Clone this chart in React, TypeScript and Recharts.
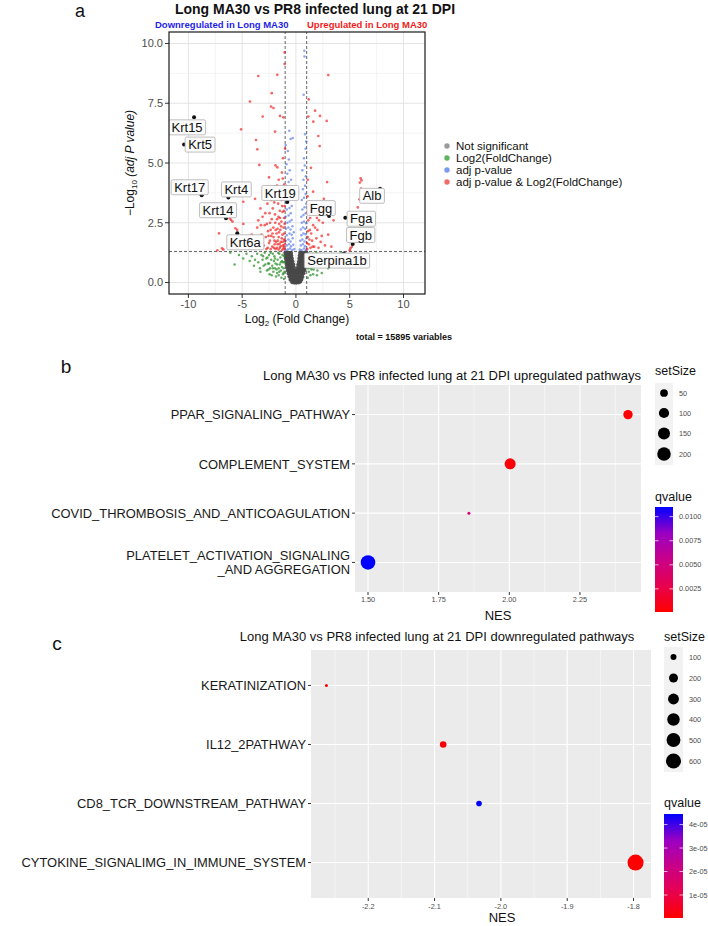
import React from 'react';
import { ScatterChart, Scatter, XAxis, YAxis, CartesianGrid, ReferenceLine } from 'recharts';

const FONT = '"Liberation Sans", Arial, Helvetica, sans-serif';

type XY = [number, number];

// ---------- Panel a: volcano (log2 fold change, -log10 adjusted p) ----------
const notSignificant: XY[] = [
  [-0.35, 0.02], [-0.15, 0.0], [0.05, 0.0], [0.25, 0.01], [0.4, 0.04],
  [-0.5, 0.12], [-0.3, 0.11], [-0.1, 0.12], [0.1, 0.1], [0.3, 0.12], [0.5, 0.13],
  [-0.6, 0.25], [-0.4, 0.24], [-0.2, 0.26], [0.0, 0.23], [0.2, 0.25], [0.4, 0.26], [0.6, 0.24],
  [-0.68, 0.38], [-0.48, 0.37], [-0.28, 0.39], [-0.08, 0.36], [0.12, 0.38], [0.32, 0.4], [0.52, 0.37], [0.7, 0.39],
  [-0.75, 0.5], [-0.55, 0.51], [-0.35, 0.49], [-0.15, 0.5], [0.05, 0.48], [0.25, 0.52], [0.45, 0.5], [0.65, 0.49], [0.78, 0.51],
  [-0.8, 0.62], [-0.6, 0.63], [-0.4, 0.61], [-0.2, 0.62], [0.15, 0.6], [0.35, 0.63], [0.55, 0.62], [0.75, 0.61], [0.85, 0.63],
  [-0.85, 0.75], [-0.65, 0.74], [-0.45, 0.76], [-0.25, 0.75], [0.22, 0.74], [0.4, 0.76], [0.6, 0.75], [0.8, 0.74], [0.9, 0.76],
  [-0.9, 0.88], [-0.7, 0.87], [-0.5, 0.89], [-0.32, 0.88], [0.28, 0.87], [0.45, 0.89], [0.65, 0.88], [0.85, 0.87], [0.95, 0.89],
  [-0.93, 1.0], [-0.75, 1.01], [-0.55, 0.99], [-0.38, 1.0], [0.32, 1.01], [0.5, 0.99], [0.7, 1.0], [0.88, 1.02], [0.98, 0.99],
  [-0.96, 1.12], [-0.78, 1.13], [-0.6, 1.11], [-0.43, 1.12], [0.36, 1.13], [0.55, 1.11], [0.75, 1.12], [0.92, 1.13], [0.99, 1.11],
  [-0.98, 1.24], [-0.8, 1.25], [-0.63, 1.23], [-0.46, 1.24], [0.4, 1.25], [0.58, 1.23], [0.78, 1.24], [0.95, 1.26], [0.99, 1.22],
];

const log2FcOnly: XY[] = [
  [-1.1, 0.15], [-1.2, 0.35], [-1.15, 0.6], [-1.3, 0.9], [-1.25, 1.15], [-1.4, 0.5], [-1.5, 0.75], [-1.45, 1.05],
  [-1.6, 0.3], [-1.7, 0.95], [-1.65, 1.25], [-1.8, 0.55], [-1.9, 0.8], [-2.0, 1.1], [-2.1, 0.45], [-2.2, 0.7],
  [-2.15, 1.2], [-2.3, 0.95], [-2.4, 0.6], [-2.5, 1.15], [-2.6, 0.8], [-2.7, 0.5], [-2.75, 1.0], [-2.9, 1.25],
  [-3.0, 0.7], [-3.1, 0.95], [-3.2, 1.15], [-3.35, 0.6], [-3.5, 0.85], [-3.6, 1.2], [-3.8, 0.95], [-3.9, 0.7],
  [-4.1, 1.1], [-4.3, 0.9], [-4.6, 1.2], [-4.9, 1.0], [-5.3, 1.15], [-1.35, 0.2], [-1.55, 1.2], [-1.85, 0.25],
  [-2.05, 0.9], [-2.45, 0.35], [-2.85, 0.75], [-3.3, 0.45], [-1.95, 0.6], [-2.55, 0.55], [-1.75, 0.4], [-1.2, 0.85],
  [-1.1, 1.1], [-6.1, 1.25], [-5.7, 0.75], [-1.05, 0.45], [-1.3, 0.65], [-1.6, 0.6], [-2.35, 1.25], [-2.25, 0.3],
  [-1.05, 0.85], [-1.15, 0.4], [-1.4, 0.85], [-1.55, 0.45], [-1.75, 0.75], [-1.95, 1.0], [-2.15, 0.6], [-2.5, 0.8],
  [-2.65, 1.05], [-3.05, 1.1],
  [1.1, 0.2], [1.2, 0.45], [1.15, 0.75], [1.3, 1.0], [1.25, 1.2], [1.4, 0.6], [1.5, 0.9], [1.6, 0.35],
  [1.7, 1.1], [1.8, 0.7], [1.9, 1.25], [2.0, 0.5], [2.1, 0.85], [2.2, 1.05], [2.35, 0.65], [2.5, 0.95],
  [2.6, 1.2], [2.75, 0.8], [2.9, 1.05], [3.1, 0.9], [3.3, 1.2], [3.5, 1.0], [3.8, 1.15], [4.2, 1.25],
  [1.35, 0.3], [1.55, 1.2], [1.95, 0.3], [2.4, 0.4], [1.1, 0.95], [3.0, 0.6], [1.05, 0.6], [1.45, 0.55],
  [1.05, 1.0], [1.2, 0.6], [1.35, 0.8], [1.65, 0.55], [1.8, 1.0], [2.05, 0.75], [2.25, 1.2], [2.7, 1.0],
];

const adjPOnly: XY[] = [
  [-0.95, 1.35], [-0.75, 1.38], [-0.55, 1.42], [-0.35, 1.36], [-0.15, 1.4],
  [-0.85, 1.55], [-0.65, 1.6], [-0.45, 1.52], [-0.25, 1.58],
  [-0.95, 1.75], [-0.7, 1.8], [-0.5, 1.72], [-0.3, 1.85],
  [-0.85, 1.98], [-0.6, 2.05], [-0.4, 2.0], [-0.2, 2.1],
  [-0.92, 2.25], [-0.7, 2.3], [-0.5, 2.22], [-0.32, 2.35],
  [-0.8, 2.5], [-0.58, 2.55], [-0.4, 2.62],
  [-0.95, 2.75], [-0.68, 2.8], [-0.48, 2.9],
  [-0.85, 3.05], [-0.6, 3.12], [-0.38, 3.2],
  [-0.93, 3.35], [-0.72, 3.45], [-0.5, 3.55],
  [-0.82, 3.75], [-0.6, 3.85],
  [-0.9, 4.05], [-0.68, 4.2], [-0.45, 4.3],
  [-0.8, 4.55], [-0.58, 4.7],
  [-0.88, 4.95], [-0.66, 5.15],
  [-0.75, 5.5], [-0.5, 6.0], [-0.3, 6.05], [-0.95, 5.75], [-0.62, 6.35],
  [0.35, 1.38], [0.55, 1.35], [0.75, 1.42], [0.95, 1.37],
  [0.45, 1.55], [0.65, 1.6], [0.85, 1.52],
  [0.4, 1.75], [0.6, 1.8], [0.8, 1.72], [0.97, 1.85],
  [0.5, 1.98], [0.7, 2.05], [0.9, 2.02],
  [0.45, 2.22], [0.65, 2.3], [0.85, 2.25],
  [0.55, 2.5], [0.75, 2.55], [0.95, 2.48],
  [0.5, 2.75], [0.7, 2.82], [0.9, 2.9],
  [0.6, 3.05], [0.8, 3.15], [0.95, 3.3],
  [0.55, 3.45], [0.75, 3.55], [0.9, 3.7],
  [0.65, 3.9], [0.85, 4.05],
  [0.7, 4.3], [0.92, 4.45],
  [0.6, 4.7], [0.82, 4.9],
  [0.75, 5.2], [0.9, 5.6], [0.85, 6.2], [0.95, 5.9],
  [0.72, 7.85], [0.8, 9.45], [0.78, 9.7],
];

const adjPAndLog2Fc: XY[] = [
  [-1.05, 1.4], [-1.2, 1.55], [-1.1, 1.8], [-1.3, 1.35], [-1.4, 1.7], [-1.25, 2.0], [-1.5, 1.45], [-1.6, 1.9],
  [-1.15, 2.3], [-1.45, 2.2], [-1.7, 1.6], [-1.8, 2.05], [-1.35, 2.55], [-1.1, 2.7], [-1.55, 2.45], [-1.9, 1.4],
  [-2.0, 1.75], [-2.1, 2.3], [-1.75, 2.65], [-1.25, 2.95], [-1.05, 3.2], [-1.5, 3.0], [-2.2, 1.5], [-2.3, 1.95],
  [-2.4, 2.5], [-1.95, 2.85], [-1.65, 3.3], [-1.2, 3.5], [-2.5, 1.65], [-2.6, 2.15], [-2.15, 3.1], [-1.85, 3.55],
  [-1.4, 3.8], [-2.75, 1.4], [-2.8, 1.9], [-2.9, 2.4], [-2.45, 2.9], [-2.3, 3.45], [-3.0, 1.55], [-3.1, 2.75],
  [-3.2, 2.0], [-2.65, 3.3], [-1.1, 4.1], [-1.6, 4.3], [-2.0, 4.0], [-3.4, 1.7], [-3.6, 2.3], [-3.3, 3.1],
  [-2.8, 3.75], [-1.3, 4.6], [-3.9, 1.45], [-4.1, 2.0], [-3.8, 3.5], [-2.5, 4.4], [-1.9, 4.9], [-1.2, 5.2],
  [-1.02, 1.6], [-1.08, 2.05], [-1.18, 1.42], [-1.32, 1.85], [-1.62, 1.38], [-1.85, 1.7], [-2.05, 1.45],
  [-1.38, 2.35], [-1.7, 2.25], [-2.25, 2.65], [-1.05, 2.45], [-1.28, 3.2], [-2.55, 1.95], [-3.5, 2.6],
  [-1.03, 1.75], [-1.12, 1.5], [-1.22, 1.7], [-1.42, 1.52], [-1.52, 1.62], [-1.58, 2.1], [-1.68, 1.75],
  [-1.78, 1.45], [-1.88, 2.2], [-1.98, 1.6], [-2.08, 1.9], [-2.18, 2.05], [-2.35, 1.4], [-2.42, 1.75],
  [-2.62, 1.45], [-2.7, 2.45], [-1.12, 3.0], [-1.48, 2.7], [-1.62, 2.75], [-1.92, 2.5], [-2.02, 3.35],
  [-1.35, 3.45], [-1.07, 3.85], [-1.55, 3.55], [-2.35, 2.2], [-2.85, 2.9], [-3.25, 2.4], [-1.22, 4.35],
  [-1.75, 4.05], [-3.05, 3.6],
  [-3.4, 4.92], [-3.59, 5.57], [-3.71, 5.96], [-1.73, 4.82], [-1.94, 6.31], [-5.1, 6.41], [-3.09, 6.94],
  [-1.48, 6.97], [-1.17, 6.91], [-2.31, 7.36], [-4.27, 7.57], [-2.25, 7.92], [-3.5, 8.64], [-1.73, 8.69],
  [-1.05, 9.63], [-1.05, 9.14], [-2.09, 7.3], [-1.0, 5.6],
  [-7.15, 2.06], [-6.87, 1.43], [-6.75, 1.38], [-6.03, 2.62], [-5.9, 2.55], [-6.15, 2.68], [-4.89, 3.38],
  [-4.89, 2.45], [-5.63, 2.27], [-5.47, 2.2], [-7.3, 1.35], [-4.6, 1.9],
  [1.05, 1.4], [1.2, 1.6], [1.1, 1.9], [1.35, 1.45], [1.5, 1.75], [1.3, 2.2], [1.7, 1.5], [1.6, 2.4],
  [1.9, 1.85], [1.15, 2.6], [2.1, 1.45], [2.0, 2.2], [1.45, 2.9], [2.3, 1.7], [2.5, 2.5], [1.8, 3.1],
  [2.7, 1.55], [1.25, 3.4], [2.2, 3.0], [3.0, 2.0], [3.3, 1.5], [2.6, 3.5], [1.6, 3.8], [1.1, 4.3],
  [3.5, 2.6], [1.4, 4.8], [2.9, 4.2], [2.21, 5.71], [1.16, 6.94], [2.86, 6.76], [2.24, 6.97], [1.78, 7.19],
  [1.62, 6.73], [2.08, 6.13], [1.19, 7.66], [3.01, 8.68],
  [1.03, 1.65], [1.12, 2.15], [1.25, 1.8], [1.42, 2.05], [1.55, 1.5], [1.78, 2.3], [1.05, 2.9], [1.32, 2.7],
  [2.4, 1.95], [2.15, 2.6], [1.08, 3.6], [1.95, 2.7],
  [6.02, 4.36], [6.1, 4.27], [5.94, 4.18], [6.06, 3.93], [5.9, 3.48], [5.75, 3.14], [5.07, 1.43], [5.2, 1.5], [5.0, 1.35],
];

const labelledGenes = [
  { gene: 'Krt15', x: -9.47, y: 6.91 },
  { gene: 'Krt5', x: -10.4, y: 5.77 },
  { gene: 'Krt17', x: -8.76, y: 3.65 },
  { gene: 'Krt4', x: -6.28, y: 3.56 },
  { gene: 'Krt14', x: -6.5, y: 2.69 },
  { gene: 'Krt6a', x: -5.45, y: 2.06 },
  { gene: 'Krt19', x: -0.8, y: 3.37 },
  { gene: 'Fgg', x: 3.08, y: 2.78 },
  { gene: 'Alb', x: 7.82, y: 3.92 },
  { gene: 'Fga', x: 4.59, y: 2.71 },
  { gene: 'Fgb', x: 5.28, y: 1.61 },
  { gene: 'Serpina1b', x: 4.47, y: 1.21 },
];

const totalVariables = 15895;
const fcCutoff = 1;
const pCutoff = 1.3;
const fcTicks = [-10, -5, 0, 5, 10];
const fcMinorTicks = [-7.5, -2.5, 2.5, 7.5];
const pTicks = [0, 2.5, 5, 7.5, 10];
const pMinorTicks = [1.25, 3.75, 6.25, 8.75];
const volcanoLegend = ['Not significant', 'Log2(FoldChange)', 'adj p-value', 'adj p-value & Log2(FoldChange)'];

// ---------- Panel b: upregulated pathways ----------
const upPathways = [
  'PLATELET_ACTIVATION_SIGNALING\n_AND AGGREGATION',
  'COVID_THROMBOSIS_AND_ANTICOAGULATION',
  'COMPLEMENT_SYSTEM',
  'PPAR_SIGNALING_PATHWAY',
];
const upNES = [1.5, 1.857, 2.003, 2.42];
const upSetSize = [240, 12, 121, 81];
const upQvalue = [0.011, 0.0045, 0.0004, 0.0001];
const upNesTicks = [1.5, 1.75, 2.0, 2.25];
const upNesMinor = [1.625, 1.875, 2.125, 2.375];
const upSizeBreaks = [50, 100, 150, 200];
const upQBreaks = [0.0025, 0.005, 0.0075, 0.01];

// ---------- Panel c: downregulated pathways ----------
const downPathways = [
  'CYTOKINE_SIGNALIMG_IN_IMMUNE_SYSTEM',
  'CD8_TCR_DOWNSTREAM_PATHWAY',
  'IL12_2PATHWAY',
  'KERATINIZATION',
];
const downNES = [-1.797, -2.033, -2.087, -2.263];
const downSetSize = [690, 92, 115, 67];
const downQvalue = [2e-7, 4.45e-5, 1.5e-6, 5e-7];
const downNesTicks = [-2.2, -2.1, -2.0, -1.9, -1.8];
const downNesMinor = [-2.25, -2.15, -2.05, -1.95, -1.85];
const downSizeBreaks = [100, 200, 300, 400, 500, 600];
const downQBreaks = [1e-5, 2e-5, 3e-5, 4e-5];

// ---------- helpers ----------
const toXY = (a: XY[]) => a.map(([x, y]) => ({ x, y }));

const padded = (vals: number[]): [number, number] => {
  const lo = Math.min(...vals);
  const hi = Math.max(...vals);
  const e = (hi - lo) * 0.05;
  return [lo - e, hi + e];
};

const qStops = ['#FF0000', '#E8004F', '#C90088', '#9A00C3', '#0000FF'];
const hexRgb = (h: string) => [1, 3, 5].map((i) => parseInt(h.slice(i, i + 2), 16));
function qColor(q: number, lo: number, hi: number) {
  const t = Math.min(1, Math.max(0, (q - lo) / (hi - lo)));
  const seg = t * (qStops.length - 1);
  const i = Math.min(qStops.length - 2, Math.floor(seg));
  const f = seg - i;
  const a = hexRgb(qStops[i]);
  const b = hexRgb(qStops[i + 1]);
  const c = a.map((v, k) => Math.round(v + (b[k] - v) * f));
  return `rgb(${c[0]},${c[1]},${c[2]})`;
}

function sizeScale(v: number, lo: number, hi: number, rMin: number, rMax: number) {
  const t = Math.min(1, Math.max(0, (v - lo) / (hi - lo)));
  return rMin + (rMax - rMin) * Math.sqrt(t);
}

let measureCtx: CanvasRenderingContext2D | null = null;
function textWidth(s: string, font: string) {
  if (typeof document === 'undefined') return s.length * 7;
  if (!measureCtx) measureCtx = document.createElement('canvas').getContext('2d');
  if (!measureCtx) return s.length * 7;
  measureCtx.font = font;
  return measureCtx.measureText(s).width;
}

const dot = (r: number, fill: string, opacity: number) => (p: any) =>
  <circle cx={p.cx} cy={p.cy} r={r} fill={fill} fillOpacity={opacity} />;

// label box placement relative to each highlighted gene (px)
const geneLabelOffset: Record<string, [number, number]> = {
  Krt15: [-7, 10], Krt5: [16, 0], Krt17: [-12, -8], Krt4: [8, -8], Krt14: [-8, -8], Krt6a: [8, 9],
  Krt19: [-7, -9], Fgg: [-8, -8], Alb: [-8, 7], Fga: [16, 1], Fgb: [8, -9], Serpina1b: [-7, 7],
};

const GeneLabel = (p: any) => {
  const { cx, cy, payload } = p;
  const off = geneLabelOffset[payload.gene] || [0, -10];
  const w = textWidth(payload.gene, `13px ${FONT}`) + 6;
  const h = 15;
  const bx = cx + off[0];
  const by = cy + off[1];
  return (
    <g>
      <circle cx={cx} cy={cy} r={2} fill="#111" />
      <rect x={bx - w / 2} y={by - h / 2} width={w} height={h} rx={1.5} fill="#fbfbfb" stroke="#b0b0b0" strokeWidth={0.8} />
      <text x={bx} y={by + 4.6} textAnchor="middle" fontSize={13} fill="#111" fontFamily={FONT}>{payload.gene}</text>
    </g>
  );
};

// pathway names on the discrete axis, slightly narrowed glyphs
function pathwayTick(names: string[]) {
  return (props: any) => {
    const { x, y, payload } = props;
    const label = names[Math.round(payload.value) - 1] || '';
    const lines = label.split('\n');
    const lh = 14.5;
    const first = y - ((lines.length - 1) * lh) / 2 + 4.8;
    return (
      <g transform={`translate(${x},0)`}>
        <text transform="scale(0.95,1)" textAnchor="end" fontSize={13.6} fill="#1a1a1a" fontFamily={FONT}>
          {lines.map((l, i) => (
            <tspan key={i} x={0} y={first + i * lh}>{l}</tspan>
          ))}
        </text>
      </g>
    );
  };
}

const smallTick = { fontSize: 7.3, fill: '#4d4d4d', fontFamily: FONT };

// ---------- layout ----------
const VOL = { left: 169, right: 425, top: 32, bottom: 294 };
const UP = { top: 385, bottom: 592, left: 355, right: 641, chartTop: 360, chartH: 270 };
const DOWN = { top: 650, bottom: 898, left: 311, right: 651, chartTop: 630, chartH: 296 };

const upRows = upPathways.map((name, i) => ({ name, rank: i + 1, nes: upNES[i], setSize: upSetSize[i], q: upQvalue[i] }));
const downRows = downPathways.map((name, i) => ({ name, rank: i + 1, nes: downNES[i], setSize: downSetSize[i], q: downQvalue[i] }));

const upSize = { lo: Math.min(...upSetSize), hi: Math.max(...upSetSize), rMin: 1.5, rMax: 7.3 };
const downSize = { lo: Math.min(...downSetSize), hi: Math.max(...downSetSize), rMin: 1.5, rMax: 8 };
const upQ = { lo: Math.min(...upQvalue), hi: Math.max(...upQvalue) };
const downQ = { lo: Math.min(...downQvalue), hi: Math.max(...downQvalue) };

function SizeLegend(props: { x: number; y: number; keyW: number; rows: number[]; breaks: number[]; sz: typeof upSize }) {
  const { x, y, keyW, rows, breaks, sz } = props;
  const top = rows[0] - 10;
  const bottom = rows[rows.length - 1] + 11;
  return (
    <g>
      <text x={x} y={y} fontSize={12.5} fill="#111" fontFamily={FONT}>setSize</text>
      <rect x={x} y={top} width={keyW} height={bottom - top} fill="#F2F2F2" />
      {breaks.map((b, i) => (
        <g key={b}>
          <circle cx={x + keyW / 2} cy={rows[i]} r={sizeScale(b, sz.lo, sz.hi, sz.rMin, sz.rMax)} fill="#000" />
          <text x={x + keyW + 6} y={rows[i] + 2.6} fontSize={7.3} fill="#4d4d4d" fontFamily={FONT}>{b}</text>
        </g>
      ))}
    </g>
  );
}

function QLegend(props: { id: string; x: number; titleY: number; top: number; bottom: number; w: number; breaks: number[]; q: { lo: number; hi: number }; fmt: (v: number) => string }) {
  const { id, x, titleY, top, bottom, w, breaks, q, fmt } = props;
  const h = bottom - top;
  return (
    <g>
      <defs>
        <linearGradient id={id} x1="0" y1="1" x2="0" y2="0">
          {qStops.map((c, i) => (
            <stop key={i} offset={i / (qStops.length - 1)} stopColor={c} />
          ))}
        </linearGradient>
      </defs>
      <text x={x} y={titleY} fontSize={12.5} fill="#111" fontFamily={FONT}>qvalue</text>
      <rect x={x} y={top} width={w} height={h} fill={`url(#${id})`} />
      {breaks.map((b) => {
        const yy = bottom - ((b - q.lo) / (q.hi - q.lo)) * h;
        return (
          <g key={b}>
            <line x1={x} x2={x + 3.5} y1={yy} y2={yy} stroke="#fff" strokeWidth={0.7} />
            <line x1={x + w - 3.5} x2={x + w} y1={yy} y2={yy} stroke="#fff" strokeWidth={0.7} />
            <text x={x + w + 6} y={yy + 2.6} fontSize={7.3} fill="#4d4d4d" fontFamily={FONT}>{fmt(b)}</text>
          </g>
        );
      })}
    </g>
  );
}

const volcanoColors = ['#9a9a9a', '#5fb55f', '#7d9bec', '#f26b6b'];

export default function App() {
  const upDomain = padded(upNES);
  const downDomain = padded(downNES);

  return (
    <div style={{ position: 'absolute', left: 0, top: 0, width: 708, height: 926, background: '#fff', overflow: 'hidden', fontFamily: FONT }}>
      {/* Panel a */}
      <div style={{ position: 'absolute', left: 0, top: 0 }}>
        <ScatterChart width={708} height={345} margin={{ top: VOL.top, right: 708 - VOL.right, bottom: 31, left: VOL.left - 40 }}>
          <CartesianGrid stroke="#efefef" strokeWidth={0.7} verticalValues={fcMinorTicks} horizontalValues={pMinorTicks} />
          <CartesianGrid stroke="#e4e4e4" strokeWidth={1} verticalValues={fcTicks} horizontalValues={pTicks} />
          <XAxis type="number" dataKey="x" domain={[-11.8, 12]} ticks={fcTicks} interval={0} allowDataOverflow height={20}
            tickSize={4} tickMargin={2} axisLine={false} tickLine={{ stroke: '#333' }}
            tick={{ fontSize: 11, fill: '#4d4d4d', fontFamily: FONT }} />
          <YAxis type="number" dataKey="y" domain={[-0.48, 10.48]} ticks={pTicks} interval={0} allowDataOverflow width={40}
            tickSize={4} tickMargin={2} axisLine={false} tickLine={{ stroke: '#333' }}
            tickFormatter={(v: number) => v.toFixed(1)}
            tick={{ fontSize: 11, fill: '#4d4d4d', fontFamily: FONT }} />
          <Scatter data={toXY(notSignificant)} shape={dot(2.1, '#474747', 0.95)} isAnimationActive={false} />
          <Scatter data={toXY(log2FcOnly)} shape={dot(1.25, '#228b22', 0.7)} isAnimationActive={false} />
          <Scatter data={toXY(adjPOnly)} shape={dot(1.25, '#4169e1', 0.6)} isAnimationActive={false} />
          <Scatter data={toXY(adjPAndLog2Fc)} shape={dot(1.35, '#ee0000', 0.6)} isAnimationActive={false} />
          <ReferenceLine x={-fcCutoff} stroke="#555" strokeDasharray="3 2" strokeWidth={0.9} />
          <ReferenceLine x={fcCutoff} stroke="#555" strokeDasharray="3 2" strokeWidth={0.9} />
          <ReferenceLine y={pCutoff} stroke="#555" strokeDasharray="3 2" strokeWidth={0.9} />
          <Scatter data={labelledGenes} shape={GeneLabel} isAnimationActive={false} />
        </ScatterChart>
      </div>

      {/* Panel b */}
      <div style={{ position: 'absolute', left: 0, top: UP.chartTop }}>
        <ScatterChart width={708} height={UP.chartH}
          margin={{ top: UP.top - UP.chartTop, right: 708 - UP.right, bottom: UP.chartTop + UP.chartH - UP.bottom - 18, left: 0 }}>
          <CartesianGrid fill="#EBEBEB" stroke="#fff" strokeWidth={0.5} verticalValues={upNesMinor} horizontal={false} />
          <CartesianGrid stroke="#fff" strokeWidth={1.1} verticalValues={upNesTicks} horizontalValues={[1, 2, 3, 4]} />
          <XAxis type="number" dataKey="nes" domain={upDomain} ticks={upNesTicks} interval={0} height={18}
            tickSize={3} tickMargin={2} axisLine={false} tickLine={{ stroke: '#333' }}
            tickFormatter={(v: number) => v.toFixed(2)} tick={smallTick} />
          <YAxis type="number" dataKey="rank" domain={[0.4, 4.6]} ticks={[1, 2, 3, 4]} interval={0} width={UP.left}
            tickSize={3} tickMargin={2} axisLine={false} tickLine={{ stroke: '#333' }}
            tick={pathwayTick(upPathways)} />
          <Scatter data={upRows} isAnimationActive={false}
            shape={(p: any) => (
              <circle cx={p.cx} cy={p.cy}
                r={sizeScale(p.payload.setSize, upSize.lo, upSize.hi, upSize.rMin, upSize.rMax)}
                fill={qColor(p.payload.q, upQ.lo, upQ.hi)} />
            )} />
        </ScatterChart>
      </div>

      {/* Panel c */}
      <div style={{ position: 'absolute', left: 0, top: DOWN.chartTop }}>
        <ScatterChart width={708} height={DOWN.chartH}
          margin={{ top: DOWN.top - DOWN.chartTop, right: 708 - DOWN.right, bottom: DOWN.chartTop + DOWN.chartH - DOWN.bottom - 20, left: 0 }}>
          <CartesianGrid fill="#EBEBEB" stroke="#fff" strokeWidth={0.5} verticalValues={downNesMinor} horizontal={false} />
          <CartesianGrid stroke="#fff" strokeWidth={1.1} verticalValues={downNesTicks} horizontalValues={[1, 2, 3, 4]} />
          <XAxis type="number" dataKey="nes" domain={downDomain} ticks={downNesTicks} interval={0} height={20}
            tickSize={3} tickMargin={3} axisLine={false} tickLine={{ stroke: '#333' }}
            tickFormatter={(v: number) => v.toFixed(1)} tick={smallTick} />
          <YAxis type="number" dataKey="rank" domain={[0.4, 4.6]} ticks={[1, 2, 3, 4]} interval={0} width={DOWN.left}
            tickSize={3} tickMargin={2} axisLine={false} tickLine={{ stroke: '#333' }}
            tick={pathwayTick(downPathways)} />
          <Scatter data={downRows} isAnimationActive={false}
            shape={(p: any) => (
              <circle cx={p.cx} cy={p.cy}
                r={sizeScale(p.payload.setSize, downSize.lo, downSize.hi, downSize.rMin, downSize.rMax)}
                fill={qColor(p.payload.q, downQ.lo, downQ.hi)} />
            )} />
        </ScatterChart>
      </div>

      {/* titles, axis titles, legends */}
      <svg width={708} height={926} style={{ position: 'absolute', left: 0, top: 0, pointerEvents: 'none' }} fontFamily={FONT}>
        {/* panel a */}
        <text x={80} y={17} fontSize={18} fill="#111" textAnchor="middle">a</text>
        <text x={315} y={14} fontSize={14} fontWeight="bold" fill="#111" textAnchor="middle">
          Long MA30 vs PR8 infected lung at 21 DPI
        </text>
        <text x={155} y={27.5} fontSize={9.5} fontWeight="bold" fill="#1f1fe6">Downregulated in Long MA30</text>
        <text x={307} y={27.5} fontSize={9.5} fontWeight="bold" fill="#f01c1c">Upregulated in Long MA30</text>
        <rect x={VOL.left} y={VOL.top} width={VOL.right - VOL.left} height={VOL.bottom - VOL.top} fill="none" stroke="#1a1a1a" strokeWidth={1.2} />
        <text transform={`translate(134,${(VOL.top + VOL.bottom) / 2}) rotate(-90)`} textAnchor="middle" fontSize={12} fill="#111">
          {'\u2212Log'}<tspan dy={3} fontSize={8}>10</tspan><tspan dy={-3}> </tspan><tspan fontStyle="italic">(adj P value)</tspan>
        </text>
        <text x={297} y={323} textAnchor="middle" fontSize={12} fill="#111">
          Log<tspan dy={3} fontSize={8}>2</tspan><tspan dy={-3}> (Fold Change)</tspan>
        </text>
        <text x={404} y={340} textAnchor="middle" fontSize={9} fontWeight="bold" fill="#111">
          {`total = ${totalVariables} variables`}
        </text>
        {volcanoLegend.map((l, i) => (
          <g key={l}>
            <circle cx={447} cy={146 + i * 12} r={2.7} fill={volcanoColors[i]} />
            <text x={456} y={146 + i * 12 + 4} fontSize={11.5} fill="#111">{l}</text>
          </g>
        ))}

        {/* panel b */}
        <text x={66} y={373} fontSize={19} fill="#111" textAnchor="middle">b</text>
        <text x={452} y={380} fontSize={13} fill="#111" textAnchor="middle">
          Long MA30 vs PR8 infected lung at 21 DPI upregulated pathways
        </text>
        <text x={(UP.left + UP.right) / 2} y={620} fontSize={13} fill="#111" textAnchor="middle">NES</text>
        <SizeLegend x={655} y={375} keyW={18} rows={[393, 413, 433.5, 454]} breaks={upSizeBreaks} sz={upSize} />
        <QLegend id="qgradUp" x={655} titleY={501} top={507} bottom={612} w={18} breaks={upQBreaks} q={upQ}
          fmt={(v) => v.toFixed(4)} />

        {/* panel c */}
        <text x={57} y={650} fontSize={19} fill="#111" textAnchor="middle">c</text>
        <text x={437} y={641} fontSize={13} fill="#111" textAnchor="middle">
          Long MA30 vs PR8 infected lung at 21 DPI downregulated pathways
        </text>
        <text x={502} y={922} fontSize={13} fill="#111" textAnchor="middle">NES</text>
        <SizeLegend x={664} y={641} keyW={19} rows={[657, 678, 699, 719.5, 740, 761]} breaks={downSizeBreaks} sz={downSize} />
        <QLegend id="qgradDown" x={664} titleY={807} top={814} bottom={918} w={19} breaks={downQBreaks} q={downQ}
          fmt={(v) => `${Math.round(v * 1e5)}e-05`} />
      </svg>
    </div>
  );
}
